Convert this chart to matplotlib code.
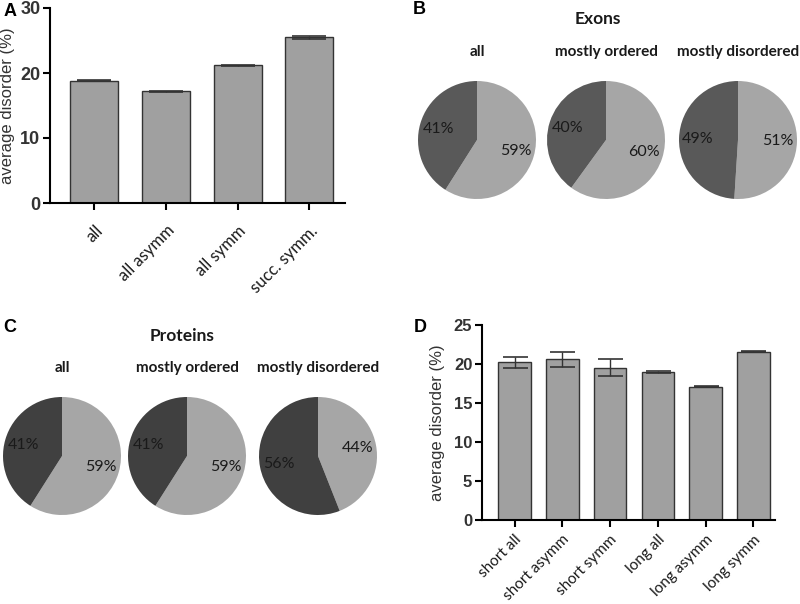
import matplotlib
matplotlib.use("Agg")
import matplotlib.pyplot as plt

# panel A
a_labels = ["all", "all asymm", "all symm", "succ. symm."]
a_values = [18.8, 17.2, 21.2, 25.5]
a_errors = [0.1, 0.1, 0.1, 0.2]

# panel D
d_labels = ["short all", "short asymm", "short symm", "long all", "long asymm", "long symm"]
d_values = [20.2, 20.6, 19.5, 19.0, 17.1, 21.6]
d_errors = [0.7, 1.0, 1.1, 0.1, 0.1, 0.1]

# pies: (light, dark) shares
pie_titles = ["all", "mostly ordered", "mostly disordered"]
exon_shares = [[59, 41], [60, 40], [51, 49]]
protein_shares = [[59, 41], [59, 41], [44, 56]]

W, H = 800, 604
fig = plt.figure(figsize=(8, 6.04), dpi=100)

BAR = "#a0a0a0"
LIGHT = "#a6a6a6"
DARK_EX = "#595959"
DARK_PR = "#404040"
ax_font = "Liberation Sans"
pie_font = "Lato"
TXT = "#333333"


def px_axes(x0, y0, x1, y1):
    # pixel box (top-left origin) -> figure axes
    return fig.add_axes([x0 / W, 1 - y1 / H, (x1 - x0) / W, (y1 - y0) / H])


def bar_panel(ax, labels, values, errors, ymax, step, width, capsize, xfs, yfs, xpad):
    x = range(len(values))
    ax.bar(x, values, width=width, color=BAR, edgecolor="#333333", linewidth=1.0,
           yerr=errors, capsize=capsize,
           error_kw=dict(elinewidth=1.0, capthick=1.2, ecolor="#333333"))
    ax.set_ylim(0, ymax)
    ax.set_yticks(range(0, ymax + 1, step))
    ax.set_xticks(list(x))
    ax.set_xticklabels(labels, rotation=45, ha="right", rotation_mode="anchor",
                       fontsize=xfs, family=pie_font, color="#1a1a1a")
    for t in ax.get_yticklabels():
        t.set_fontsize(yfs)
        t.set_family(ax_font)
        t.set_fontweight("bold")
        t.set_color(TXT)
    ax.spines["top"].set_visible(False)
    ax.spines["right"].set_visible(False)
    ax.spines["left"].set_linewidth(1.5)
    ax.spines["bottom"].set_linewidth(1.5)
    ax.tick_params(direction="out", length=5, width=1.5, pad=2)
    ax.tick_params(axis="x", pad=xpad)
    ax.set_ylabel("average disorder (%)", fontsize=12, family=ax_font, color=TXT)


# A
axA = px_axes(50, 8, 345, 203)
bar_panel(axA, a_labels, a_values, a_errors, 30, 10, 0.67, 12, 12, 13, 9)
axA.set_xlim(-0.62, 3.5)
axA.yaxis.labelpad = 4
fig.text(4 / W, 1 - 11 / H, "A", fontsize=13, fontweight="bold", family=ax_font, va="center")

# D
axD = px_axes(482, 325, 775, 520)
bar_panel(axD, d_labels, d_values, d_errors, 25, 5, 0.68, 9, 11, 12, 4)
axD.set_xlim(-0.68, 5.45)
axD.yaxis.labelpad = 6
fig.text(414 / W, 1 - 327 / H, "D", fontsize=13, fontweight="bold", family=ax_font, va="center")


def pie_panel(centers, cy, shares, dark, title, title_xy, sub_y, letter, letter_xy):
    r = 59
    for (cx, sh, name) in zip(centers, shares, pie_titles):
        ax = px_axes(cx - r, cy - r, cx + r, cy + r)
        ax.pie(sh, colors=[LIGHT, dark], startangle=90, counterclock=False,
               autopct=lambda p: "%d%%" % round(p), pctdistance=0.68,
               textprops=dict(fontsize=11.5, family=pie_font, color="#1a1a1a"))
        ax.set_xlim(-1, 1)
        ax.set_ylim(-1, 1)
        ax.set_aspect("equal")
        fig.text(cx / W, 1 - sub_y / H, name, ha="center", va="center",
                 fontsize=11, fontweight="bold", family=pie_font, color="#1a1a1a")
    fig.text(title_xy[0] / W, 1 - title_xy[1] / H, title, ha="center", va="center",
             fontsize=12.5, fontweight="bold", family=pie_font, color="#1a1a1a")
    fig.text(letter_xy[0] / W, 1 - letter_xy[1] / H, letter, fontsize=13,
             fontweight="bold", family=ax_font, va="center")


pie_panel([477, 606, 738], 140, exon_shares, DARK_EX, "Exons", (598, 19), 52, "B", (413, 9))
pie_panel([62, 187, 318], 456, protein_shares, DARK_PR, "Proteins", (182, 336), 368, "C", (3, 327))

fig.savefig("out.png", dpi=100)
